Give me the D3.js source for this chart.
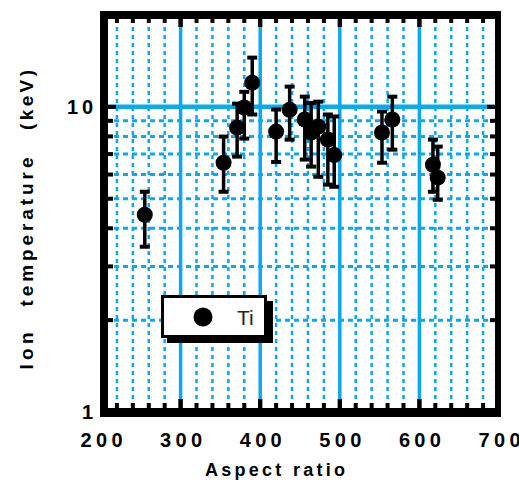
<!DOCTYPE html>
<html>
<head>
<meta charset="utf-8">
<script src="https://cdn.jsdelivr.net/npm/d3@7"></script>
<style>
  html, body { margin: 0; padding: 0; background: #ffffff; }
  svg { display: block; }
  text { font-family: "Liberation Sans", Arial, sans-serif; }
</style>
</head>
<body>
<svg id="chart" width="519" height="481"></svg>
<script>
// ---- data ----
const aspectRatio = [255, 354, 371, 380, 390, 420, 437, 456, 464, 473, 485, 493, 553, 566, 617, 623];
const ionTemp     = [4.43, 6.56, 8.55, 9.95, 12.0, 8.3, 9.78, 9.09, 8.24, 8.62, 7.81, 6.95, 8.24, 9.09, 6.46, 5.86];
const tempHigh    = [5.27, 7.99, 10.25, 11.2, 14.5, 9.8, 11.65, 10.8, 10.3, 10.4, 9.44, 9.3, 9.65, 10.8, 7.81, 7.41];
const tempLow     = [3.48, 5.27, 6.87, 7.87, 9.44, 6.6, 7.81, 6.72, 6.37, 5.9, 5.56, 5.47, 6.56, 7.24, 5.27, 4.96];

const xTickLabels = [200, 300, 400, 500, 600, 700];
const xMinorTicks = d3.range(220, 700, 20);
const yTickLabels = [1, 10];
const yMinorTicks = [2, 3, 4, 5, 6, 7, 8, 9];
const seriesName = "Ti";
const xTitle = "Aspect ratio";
const yTitleWords = ["Ion", "temperature", "(keV)"];

(function () {
// ---- layout ----
const svg = d3.select("#chart");
const x = d3.scaleLinear().domain([200, 700]).range([101, 499]);
const y = d3.scaleLog().domain([1, 20]).range([412, 15]);
const blue = "#0aa8ec";
const pL = 101, pR = 499, pT = 15, pB = 412;

// grid: vertical
const gGrid = svg.append("g");
gGrid.selectAll("line.vminor")
  .data(xMinorTicks.filter(d => d % 100 !== 0))
  .join("line")
  .attr("x1", d => x(d)).attr("x2", d => x(d))
  .attr("y1", pT + 4).attr("y2", pB - 4)
  .attr("stroke", blue).attr("stroke-width", 2.5)
  .attr("stroke-dasharray", "4,4");
gGrid.selectAll("line.vmajor")
  .data(xTickLabels.filter(d => d > 200 && d < 700))
  .join("line")
  .attr("x1", d => x(d)).attr("x2", d => x(d))
  .attr("y1", pT + 4).attr("y2", pB - 4)
  .attr("stroke", blue).attr("stroke-width", 3.5);
// grid: horizontal
gGrid.selectAll("line.hminor")
  .data(yMinorTicks)
  .join("line")
  .attr("x1", pL + 4).attr("x2", pR - 3)
  .attr("y1", d => y(d)).attr("y2", d => y(d))
  .attr("stroke", blue).attr("stroke-width", 3)
  .attr("stroke-dasharray", "5,4");
gGrid.append("line")
  .attr("x1", pL + 4).attr("x2", pR - 3)
  .attr("y1", y(10)).attr("y2", y(10))
  .attr("stroke", blue).attr("stroke-width", 4.5);

// ---- data marks ----
const gData = svg.append("g");
const pts = aspectRatio.map((a, i) => ({ a, t: ionTemp[i], hi: tempHigh[i], lo: tempLow[i] }));
gData.selectAll("line.stem").data(pts).join("line")
  .attr("x1", d => x(d.a)).attr("x2", d => x(d.a))
  .attr("y1", d => y(d.hi)).attr("y2", d => y(d.lo))
  .attr("stroke", "#000").attr("stroke-width", 3.5);
gData.selectAll("rect.capHi").data(pts).join("rect")
  .attr("x", d => x(d.a) - 5).attr("y", d => y(d.hi) - 2)
  .attr("width", 10).attr("height", 4).attr("fill", "#000");
gData.selectAll("rect.capLo").data(pts).join("rect")
  .attr("x", d => x(d.a) - 5).attr("y", d => y(d.lo) - 2)
  .attr("width", 10).attr("height", 4).attr("fill", "#000");
gData.selectAll("circle").data(pts).join("circle")
  .attr("cx", d => x(d.a)).attr("cy", d => y(d.t))
  .attr("r", 8).attr("fill", "#000");

// ---- frame ----
const gFrame = svg.append("g").attr("fill", "#000");
gFrame.append("rect").attr("x", 100).attr("y", 11).attr("width", 8).attr("height", 406); // left
gFrame.append("rect").attr("x", 100).attr("y", 11).attr("width", 401).attr("height", 8);  // top
gFrame.append("rect").attr("x", 495).attr("y", 11).attr("width", 6).attr("height", 406);  // right
gFrame.append("rect").attr("x", 100).attr("y", 408).attr("width", 401).attr("height", 9); // bottom

// ticks on x (top & bottom)
const xAllTicks = xMinorTicks.concat(xTickLabels.filter(d => d > 200 && d < 700));
gFrame.selectAll("rect.xtTop").data(xAllTicks).join("rect")
  .attr("x", d => x(d) - 2).attr("y", 19)
  .attr("width", 4).attr("height", d => d % 100 === 0 ? 8 : 4);
gFrame.selectAll("rect.xtBot").data(xAllTicks).join("rect")
  .attr("x", d => x(d) - 2).attr("y", d => d % 100 === 0 ? 399 : 403)
  .attr("width", 4).attr("height", d => d % 100 === 0 ? 9 : 5);
// ticks on y (left & right)
const yAllTicks = yMinorTicks.concat([10]);
gFrame.selectAll("rect.ytL").data(yAllTicks).join("rect")
  .attr("x", 108).attr("y", d => y(d) - 2)
  .attr("width", d => d === 10 ? 8 : 5).attr("height", 4);
gFrame.selectAll("rect.ytR").data(yAllTicks).join("rect")
  .attr("x", d => d === 10 ? 487 : 490).attr("y", d => y(d) - 2)
  .attr("width", d => d === 10 ? 8 : 5).attr("height", 4);

// ---- axes labels ----
const xAxis = d3.axisBottom(x).tickValues(xTickLabels).tickSize(0).tickPadding(0).tickFormat(d3.format("d"));
const gx = svg.append("g").attr("transform", "translate(0,433)").call(xAxis);
gx.select(".domain").remove();
gx.selectAll("text")
  .attr("font-size", 20).attr("font-weight", "bold").attr("fill", "#000")
  .attr("font-family", "Liberation Sans, Arial, sans-serif")
  .attr("textLength", 42).attr("lengthAdjust", "spacing");

const yAxis = d3.axisLeft(y).tickValues(yTickLabels).tickSize(0).tickPadding(0).tickFormat(d3.format("d"));
const gy = svg.append("g").attr("transform", "translate(93,0)").call(yAxis);
gy.select(".domain").remove();
gy.selectAll("text")
  .attr("font-size", 20).attr("font-weight", "bold").attr("fill", "#000")
  .attr("font-family", "Liberation Sans, Arial, sans-serif")
  .each(function(d) { if (d === 10) d3.select(this).attr("textLength", 26).attr("lengthAdjust", "spacing"); });

// titles
svg.append("text")
  .attr("x", 275).attr("y", 476)
  .attr("text-anchor", "middle")
  .attr("font-size", 18).attr("font-weight", "bold")
  .attr("textLength", 140).attr("lengthAdjust", "spacing")
  .text(xTitle);

const yTitlePos = [{ c: 351, len: 37 }, { c: 232, len: 149 }, { c: 100, len: 60 }];
svg.selectAll("text.ytitle").data(yTitleWords).join("text")
  .attr("transform", (d, i) => `translate(33,${yTitlePos[i].c}) rotate(-90)`)
  .attr("text-anchor", "middle")
  .attr("font-size", 19).attr("font-weight", "bold")
  .attr("textLength", (d, i) => yTitlePos[i].len).attr("lengthAdjust", "spacing")
  .text(d => d);

// ---- legend ----
const gLeg = svg.append("g");
gLeg.append("rect").attr("x", 167).attr("y", 301).attr("width", 106).attr("height", 42).attr("fill", "#000");
gLeg.append("rect").attr("x", 162.5).attr("y", 296.5).attr("width", 103).attr("height", 40)
  .attr("fill", "#fff").attr("stroke", "#000").attr("stroke-width", 3);
gLeg.append("circle").attr("cx", 203).attr("cy", 317).attr("r", 9.5).attr("fill", "#000");
gLeg.append("text").attr("x", 237).attr("y", 325).attr("font-size", 21).attr("fill", "#222").text(seriesName);
})();
</script>
</body>
</html>
